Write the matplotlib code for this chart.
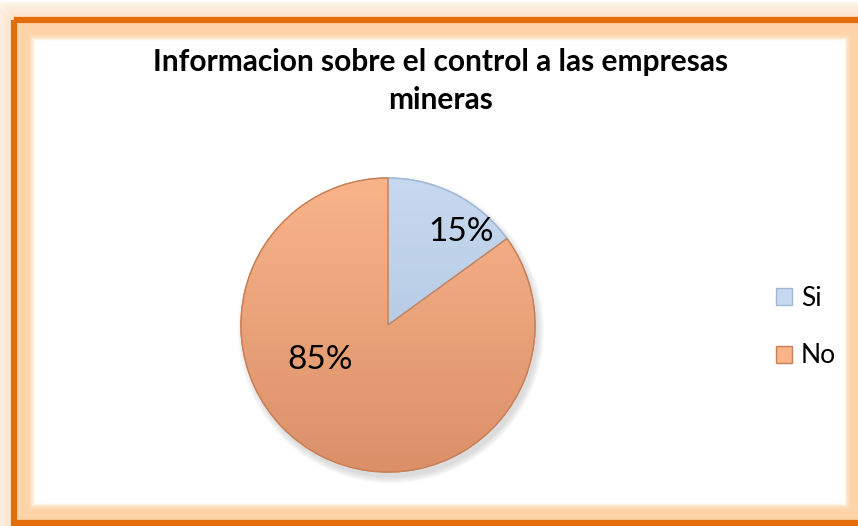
import matplotlib
matplotlib.use("Agg")
import matplotlib.pyplot as plt
from matplotlib.patches import Rectangle, Patch, Ellipse, Wedge
from matplotlib.colors import to_rgb
import numpy as np

title = "Informacion sobre el control a las empresas\nmineras"
categories = ["Si", "No"]
values = [15, 85]
labels = ["15%", "85%"]
colors = ["#c6d9f0", "#f9b48a"]
dark_colors = ["#a9bfd9", "#db9068"]
edge_colors = ["#9fb8d6", "#c98059"]

W, H = 858, 526
plt.rcParams['font.family'] = ['Lato', 'DejaVu Sans']
fig = plt.figure(figsize=(W / 100, H / 100), dpi=100)

# background frame
bg = fig.add_axes([0, 0, 1, 1])
bg.set_xlim(0, W)
bg.set_ylim(H, 0)
bg.axis("off")
bg.add_patch(Rectangle((0, 0), W, H, color="white", zorder=0))
BX, BY, BW, BH = 14, 20, 850, 503
# outer glow
for i in range(18):
    pad = 18 - i
    bg.add_patch(Rectangle((BX - pad, BY - pad), BW + 2 * pad, BH + 2 * pad,
                           facecolor="none", edgecolor="#fbbf85", lw=2,
                           alpha=0.06 + 0.14 * i / 18, zorder=1))
# inner glow
for i in range(18):
    inset = 2 + i
    a = 0.8 if i < 10 else 0.8 * (1 - (i - 10) / 8)
    bg.add_patch(Rectangle((BX + inset, BY + inset), BW - 2 * inset, BH - 2 * inset,
                           facecolor="none", edgecolor="#fdd3a6",
                           lw=2, alpha=max(0, a), zorder=1))
# main border
bg.add_patch(Rectangle((BX, BY), BW, BH, facecolor="none", edgecolor="#e46c0a", lw=4.5, zorder=2))

fig.text(441 / W, 1 - 81 / H, title, ha="center", va="center", fontsize=21.5,
         fontweight="bold", linespacing=1.42, color="black")

ax = fig.add_axes([241 / W, (H - 472) / H, 294 / W, 294 / H])
# soft shadow
for i in range(8):
    ax.add_patch(Ellipse((0.02, -0.035), 2.0 + 0.012 * i, 2.0 + 0.012 * i,
                         facecolor="#808080", edgecolor="none", alpha=0.035, zorder=0,
                         clip_on=False))
wedges, _ = ax.pie(values, colors=colors, startangle=90, counterclock=False,
                   radius=1, wedgeprops=dict(linewidth=1.0))
for w, ec, c, dc in zip(wedges, edge_colors, colors, dark_colors):
    w.set_edgecolor(ec)
    w.set_zorder(2)
    top = np.array(to_rgb(c))
    bot = np.array(to_rgb(dc))
    t = np.linspace(0, 1, 200)[:, None]
    grad = (top * (1 - t) + bot * t)[:, None, :] * np.ones((1, 2, 1))
    im = ax.imshow(grad, extent=(-1, 1, -1, 1), origin="upper", zorder=2.5,
                   aspect="auto", interpolation="bilinear")
    im.set_clip_path(w)
ax.set_xlim(-1.0, 1.0)
ax.set_ylim(-1.0, 1.0)
ax.set_aspect("equal")
for w, ec in zip(wedges, edge_colors):
    ax.add_patch(Wedge(w.center, w.r, w.theta1, w.theta2, facecolor="none",
                       edgecolor=ec, lw=1.0, zorder=3, clip_on=False))

label_pos = [(0.50, 0.63), (-0.46, -0.24)]
for lab, (x, y) in zip(labels, label_pos):
    ax.text(x, y, lab, ha="center", va="center", fontsize=24, color="black", zorder=4)

handles = [Patch(facecolor=c, edgecolor=e, label=l) for c, e, l in zip(colors, edge_colors, categories)]
fig.legend(handles=handles, loc="center left", bbox_to_anchor=(752 / W, 1 - 327 / H),
           frameon=False, fontsize=19, handlelength=0.6, handleheight=0.6,
           handletextpad=0.35, labelspacing=1.25)

fig.savefig("out.png", dpi=100)
